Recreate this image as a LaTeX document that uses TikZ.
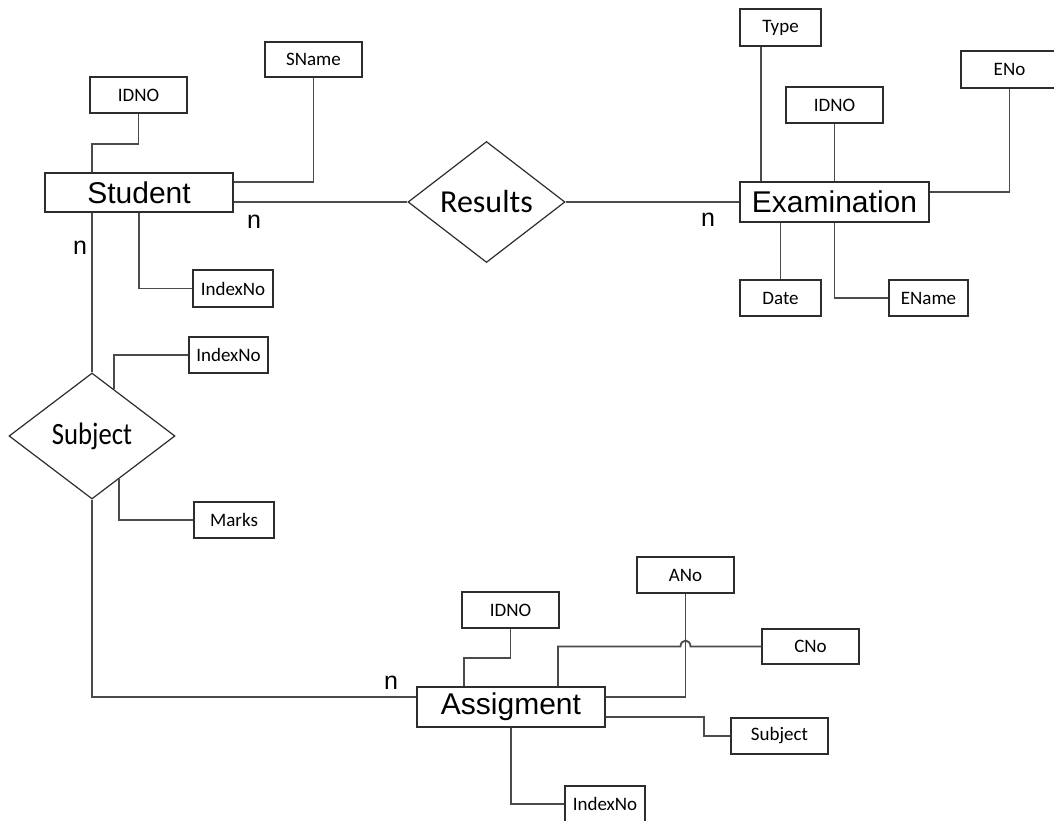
\documentclass[tikz,border=0pt]{standalone}
\usepackage{fontspec}
\setmainfont{Carlito}
\newfontfamily\entfont{Liberation Sans}
\usetikzlibrary{shapes.geometric,calc}
\definecolor{linkgray}{RGB}{75,75,75}
\definecolor{boxgray}{RGB}{45,45,45}
\tikzset{
  entity/.style={draw=boxgray, line width=1.6pt, fill=white, inner sep=0pt,
    minimum width=188pt, minimum height=39pt,
    font=\entfont\fontsize{30}{32}\selectfont},
  attr/.style={draw=boxgray, line width=1.4pt, fill=white, inner sep=0pt,
    minimum width=97pt, minimum height=36pt,
    font=\fontsize{19}{22}\selectfont},
  rel/.style={diamond, draw=boxgray, line width=1.2pt, fill=white, inner sep=0pt},
  link/.style={draw=linkgray, line width=1.8pt},
  card/.style={inner sep=0pt, font=\entfont\fontsize{25}{27}\selectfont}
}
\begin{document}
\begin{tikzpicture}[x=1pt, y=-1pt]
\clip (0,0) rectangle (1054,821);
\fill[white] (0,0) rectangle (1054,821);

% relationships
\node[rel, aspect=1.3, minimum width=157pt, minimum height=121pt,
  font=\fontsize{32}{34}\selectfont] (Results) at (486.5,202) {Results};
\node[rel, aspect=1.32, minimum width=166pt, minimum height=126pt,
  font=\fontsize{31}{33}\selectfont] (Subject) at (92,436) {\scalebox{0.86}[1]{Subject}};

% entities
\node[entity] (Student) at (139,192.5) {Student};
\node[entity, minimum width=189pt, minimum height=40pt] (Examination) at (834.5,202) {Examination};
\node[entity, minimum height=40pt] (Assigment) at (511,707) {Assigment};

% attributes of Student
\node[attr] (sIDNO) at (138.5,95) {IDNO};
\node[attr, minimum height=35pt] (SName) at (313.5,59.5) {SName};
\node[attr, minimum width=80pt, minimum height=37pt] (sIndex) at (233,288.5) {IndexNo};

% attributes of Examination
\node[attr, minimum width=81pt, minimum height=37pt] (Type) at (780.5,27.5) {Type};
\node[attr] (eIDNO) at (834.5,105) {IDNO};
\node[attr, minimum height=37pt] (ENo) at (1009.5,69.5) {ENo};
\node[attr, minimum width=81pt] (Date) at (780.5,298) {Date};
\node[attr, minimum width=79pt] (EName) at (928.5,298) {EName};

% attributes of Subject
\node[attr, minimum width=79pt] (subIndex) at (228.5,355) {IndexNo};
\node[attr, minimum width=80pt] (Marks) at (234,520) {Marks};

% attributes of Assigment
\node[attr] (aIDNO) at (510.5,610) {IDNO};
\node[attr] (ANo) at (685.5,575) {ANo};
\node[attr, minimum height=35pt] (CNo) at (810.5,646.5) {CNo};
\node[attr] (aSubject) at (779.5,736) {Subject};
\node[attr, minimum width=80pt] (aIndex) at (605,804) {IndexNo};

% Student links
\draw[link] (sIDNO.south) -- ++(0,30) -| ([xshift=-47pt]Student.north);
\draw[link] (SName.south) |- ([yshift=10.5pt]Student.east);
\draw[link] (Student.south) |- (sIndex.west);
\draw[link] (Results.west -| Student.east) -- (Results.west);
\draw[link] ([xshift=-47pt]Student.south) -- (Subject.north);

% Examination links
\draw[link] (Results.east) -- (Examination.west);
\draw[link] ([xshift=-19.5pt]Type.south) -- ([xshift=-19.5pt]Type.south |- Examination.north);
\draw[link] (eIDNO.south) -- (Examination.north);
\draw[link] (ENo.south) |- ([yshift=10pt]Examination.east);
\draw[link] (Date.north) -- (Date.north |- Examination.south);
\draw[link] (Examination.south) |- (EName.west);

% Subject links
\draw[link] ($(Subject.north)!0.265!(Subject.east)$) |- (subIndex.west);
\draw[link] ($(Subject.south)!0.325!(Subject.east)$) |- (Marks.west);
\draw[link] (Subject.south) |- ([yshift=10pt]Assigment.west);

% Assigment links
\draw[link] (aIDNO.south) -- ++(0,29) -| ([xshift=-47pt]Assigment.north);
\draw[link] (ANo.south) |- ([yshift=10pt]Assigment.east);
\draw[link] ([xshift=47pt]Assigment.north) -- ([xshift=47pt]Assigment.north |- CNo.west)
  -- ($(ANo.south |- CNo.west)+(-5,0)$)
  arc[start angle=180, end angle=0, x radius=5pt, y radius=6pt]
  -- (CNo.west);
\draw[link] ([yshift=-10pt]Assigment.east) -| ([xshift=-26pt]aSubject.west) -- (aSubject.west);
\draw[link] (Assigment.south) |- (aIndex.west);

% cardinalities
\node[card] (c1) at (254,222) {n};
\node[card] (c2) at (80,248) {n};
\node[card] (c3) at (708,220) {n};
\node[card] (c4) at (391,683) {n};
\end{tikzpicture}
\end{document}
